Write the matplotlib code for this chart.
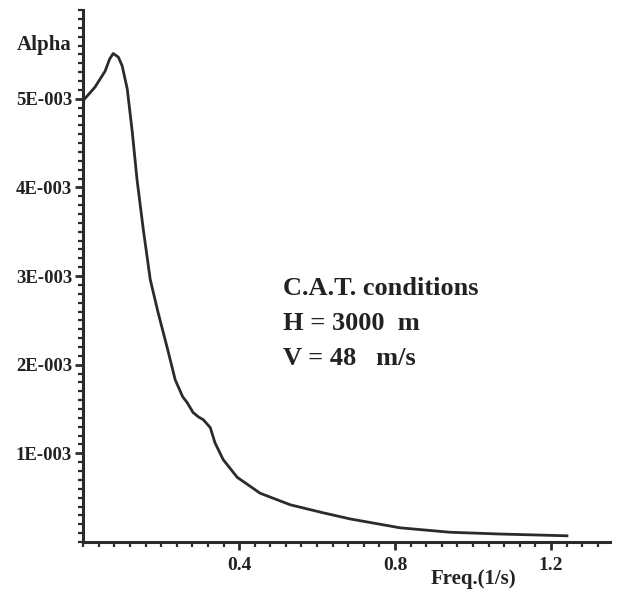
import matplotlib
matplotlib.use("Agg")
import matplotlib.pyplot as plt
from matplotlib.ticker import MultipleLocator

# Curve
freq = [0.000, 0.030, 0.056, 0.068, 0.077, 0.090, 0.100, 0.113, 0.126, 0.138,
        0.154, 0.172, 0.192, 0.215, 0.236, 0.255, 0.267, 0.282, 0.296, 0.308,
        0.326, 0.338, 0.359, 0.395, 0.454, 0.531, 0.615, 0.685, 0.813, 0.941,
        1.069, 1.241]
alpha = [4.98, 5.13, 5.31, 5.45, 5.51, 5.47, 5.37, 5.11, 4.62, 4.09,
         3.53, 2.96, 2.59, 2.20, 1.83, 1.64, 1.57, 1.46, 1.41, 1.38,
         1.29, 1.12, 0.93, 0.73, 0.55, 0.42, 0.33, 0.26, 0.16, 0.11,
         0.09, 0.07]
alpha = [a * 1e-3 for a in alpha]

yticks = [1e-3, 2e-3, 3e-3, 4e-3, 5e-3]
ylabels = ["1E-003", "2E-003", "3E-003", "4E-003", "5E-003"]
xticks = [0.4, 0.8, 1.2]
xlabels = ["0.4", "0.8", "1.2"]

notes = ["C.A.T. conditions", "H = 3000  m", "V = 48   m/s"]

plt.rcParams["font.family"] = "Liberation Serif"
plt.rcParams["font.weight"] = "bold"
ink = "#2b2b2b"

fig = plt.figure(figsize=(6.21, 5.93), dpi=100)
ax = fig.add_axes([0.134, 0.086, 0.848, 0.897])

ax.plot(freq, alpha, color=ink, linewidth=2.0)

ax.set_xlim(0, 1.351)
ax.set_ylim(0, 6.0e-3)

ax.spines["top"].set_visible(False)
ax.spines["right"].set_visible(False)
for s in ["left", "bottom"]:
    ax.spines[s].set_linewidth(2.2)
    ax.spines[s].set_color(ink)

ax.set_yticks(yticks)
ax.set_yticklabels(ylabels)
ax.set_xticks(xticks)
ax.set_xticklabels(xlabels)
ax.yaxis.set_minor_locator(MultipleLocator(1e-4))
ax.xaxis.set_minor_locator(MultipleLocator(0.04))
ax.tick_params(which="major", length=6, width=2, color=ink, labelsize=14,
               labelcolor="#222222", pad=2)
ax.tick_params(axis="y", labelsize=13.5)
ax.tick_params(which="minor", length=3.5, width=1.6, color=ink)
ax.tick_params(axis="x", pad=5)

ax.text(-0.022, 0.935, "Alpha", transform=ax.transAxes, ha="right", va="center",
        fontsize=15, fontweight="bold", color="#222222")
fig.text(0.762, 0.024, "Freq.(1/s)", ha="center", va="center",
         fontsize=15, fontweight="bold", color="#222222")

for i, t in enumerate(notes):
    fig.text(0.456, 0.514 - i * 0.059, t, ha="left", va="center",
             fontsize=19, fontweight="bold", color="#222222")

fig.savefig("out.png", dpi=100)
